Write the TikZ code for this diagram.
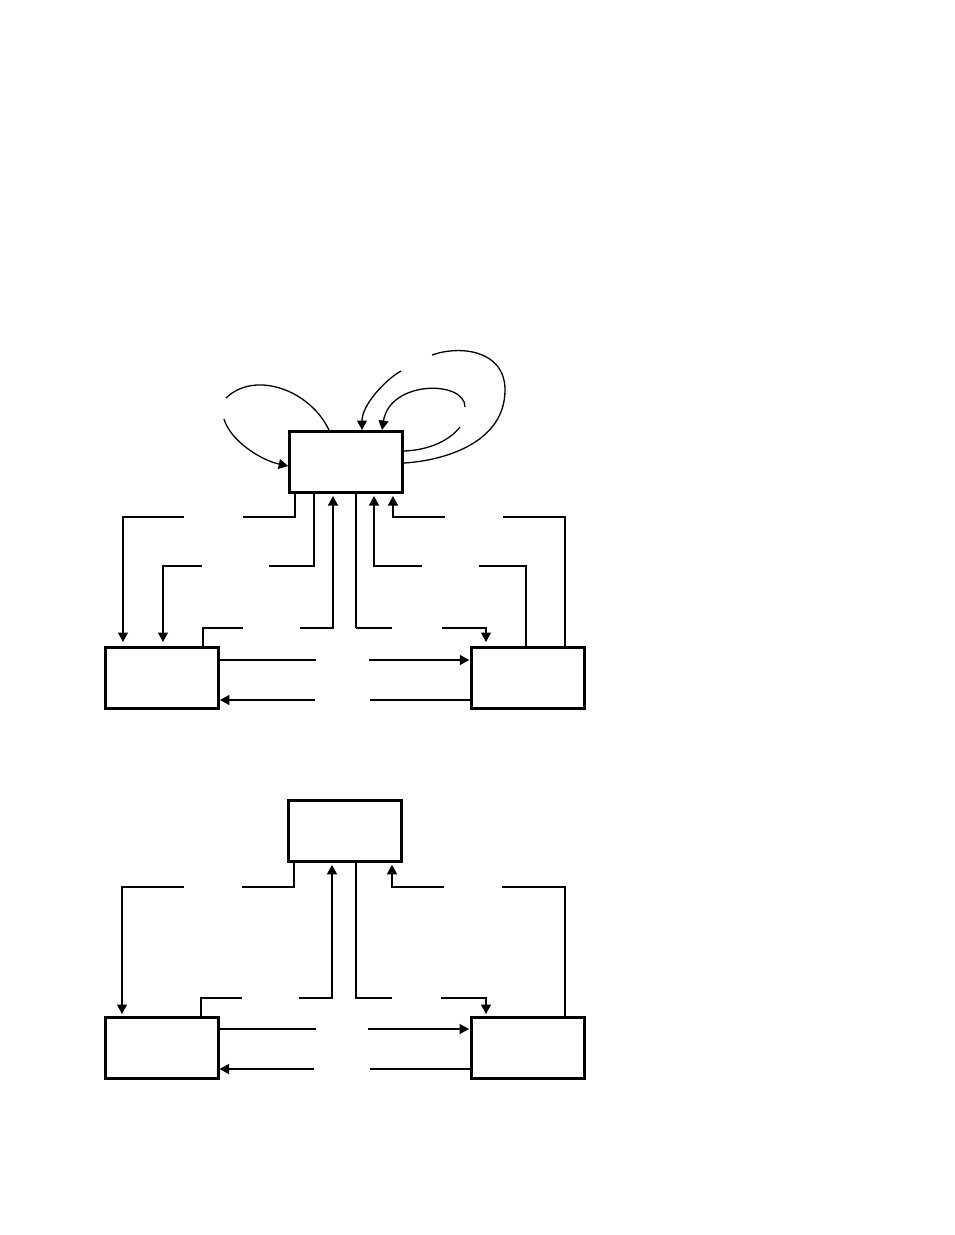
\documentclass[tikz,border=0pt]{standalone}
\usetikzlibrary{arrows.meta}
\begin{document}
\begin{tikzpicture}[x=1pt,y=-1pt,
  boxnode/.style={draw,line width=3pt,minimum width=113pt,minimum height=61pt,inner sep=0pt},
  conn/.style={line width=1.3pt},
  arr/.style={line width=1.3pt,-{Triangle[length=9.5pt,width=10pt]}},
  thickconn/.style={line width=2pt}]
\useasboundingbox (0,0) rectangle (954,1235);
% ---------- top diagram ----------
\node[boxnode] (A) at (346.2,462) {};
\node[boxnode] (B) at (161.9,678) {};
\node[boxnode] (C) at (528.3,678) {};
% T1 A->B
\coordinate (t1s) at (295,517); \coordinate (t1a) at (243,517);
\coordinate (t1b) at (184,517); \coordinate (t1t) at (123,517);
\draw[conn] (A.south -| t1s) |- (t1a);
\draw[arr,shorten >=4pt] (t1b) -| (B.north -| t1t);
% T2 A->B
\coordinate (t2s) at (314,566); \coordinate (t2a) at (269,566);
\coordinate (t2b) at (202,566); \coordinate (t2t) at (163,566);
\draw[conn] (A.south -| t2s) |- (t2a);
\draw[arr,shorten >=4pt] (t2b) -| (B.north -| t2t);
% T3 B->A
\coordinate (t3s) at (203,628); \coordinate (t3a) at (243,628);
\coordinate (t3b) at (300,628); \coordinate (t3t) at (333,628);
\draw[conn] (B.north -| t3s) |- (t3a);
\draw[arr,shorten >=2pt] (t3b) -| (A.south -| t3t);
% T4 A->C
\coordinate (t4s) at (356,628); \coordinate (t4a) at (392,628);
\coordinate (t4b) at (442,628); \coordinate (t4t) at (486,628);
\draw[thickconn] (A.south -| t4s) -- (t4s);
\draw[conn] (t4s) -- (t4a);
\draw[arr,shorten >=4pt] (t4b) -| (C.north -| t4t);
% T5 C->A
\coordinate (t5s) at (526,566); \coordinate (t5a) at (479,566);
\coordinate (t5b) at (422,566); \coordinate (t5t) at (374,566);
\draw[conn] (C.north -| t5s) |- (t5a);
\draw[arr,shorten >=2pt] (t5b) -| (A.south -| t5t);
% T6 C->A
\coordinate (t6s) at (565,517); \coordinate (t6a) at (503,517);
\coordinate (t6b) at (445,517); \coordinate (t6t) at (393,517);
\draw[conn] (C.north -| t6s) |- (t6a);
\draw[arr,shorten >=2pt] (t6b) -| (A.south -| t6t);
% T7 B->C
\coordinate (t7a) at (316,660); \coordinate (t7b) at (369,660);
\draw[conn] (B.east |- t7a) -- (t7a);
\draw[arr,shorten >=1pt] (t7b) -- (C.west |- t7b);
% T8 C->B
\coordinate (t8a) at (370,700); \coordinate (t8b) at (315,700);
\draw[conn] (C.west |- t8a) -- (t8a);
\draw[arr] (t8b) -- (B.east |- t8b);
% loops on A
\coordinate (l1s) at (329,0); \coordinate (l1e) at (0,466);
\draw[conn] (A.north -| l1s) .. controls (310,390) and (255,370) .. (226,398);
\draw[arr] (224,419) .. controls (230,440) and (260,460) .. (A.west |- l1e);
\coordinate (l2s) at (0,463); \coordinate (l2e) at (362,0);
\draw[conn] (A.east |- l2s) .. controls (450,460) and (505,440) .. (505,390)
  .. controls (505,350) and (460,345) .. (432,355);
\draw[arr] (401,371) .. controls (385,380) and (362,405) .. (A.north -| l2e);
\coordinate (l3s) at (0,451); \coordinate (l3e) at (382,0);
\draw[conn] (A.east |- l3s) .. controls (430,450) and (450,440) .. (460,427);
\draw[arr] (465,407) .. controls (465,380) and (390,380) .. (A.north -| l3e);
% ---------- bottom diagram ----------
\node[boxnode] (A2) at (345.3,830.8) {};
\node[boxnode] (B2) at (161.5,1048) {};
\node[boxnode] (C2) at (528,1048) {};
% U1 A2->B2
\coordinate (u1s) at (294,887); \coordinate (u1a) at (242,887);
\coordinate (u1b) at (184,887); \coordinate (u1t) at (122,887);
\draw[conn] (A2.south -| u1s) |- (u1a);
\draw[arr,shorten >=2pt] (u1b) -| (B2.north -| u1t);
% U2 B2->A2
\coordinate (u2s) at (201,998); \coordinate (u2a) at (242,998);
\coordinate (u2b) at (299,998); \coordinate (u2t) at (332,998);
\draw[conn] (B2.north -| u2s) |- (u2a);
\draw[arr,shorten >=2pt] (u2b) -| (A2.south -| u2t);
% U3 A2->C2
\coordinate (u3s) at (356,998); \coordinate (u3a) at (392,998);
\coordinate (u3b) at (441,998); \coordinate (u3t) at (486,998);
\draw[conn] (A2.south -| u3s) |- (u3a);
\draw[arr,shorten >=2pt] (u3b) -| (C2.north -| u3t);
% U4 C2->A2
\coordinate (u4s) at (565,887); \coordinate (u4a) at (502,887);
\coordinate (u4b) at (444,887); \coordinate (u4t) at (392,887);
\draw[conn] (C2.north -| u4s) |- (u4a);
\draw[arr,shorten >=2pt] (u4b) -| (A2.south -| u4t);
% U5 B2->C2
\coordinate (u5a) at (316,1029); \coordinate (u5b) at (368,1029);
\draw[conn] (B2.east |- u5a) -- (u5a);
\draw[arr,shorten >=1pt] (u5b) -- (C2.west |- u5b);
% U6 C2->B2
\coordinate (u6a) at (370,1069); \coordinate (u6b) at (314,1069);
\draw[conn] (C2.west |- u6a) -- (u6a);
\draw[arr] (u6b) -- (B2.east |- u6b);
\end{tikzpicture}
\end{document}
